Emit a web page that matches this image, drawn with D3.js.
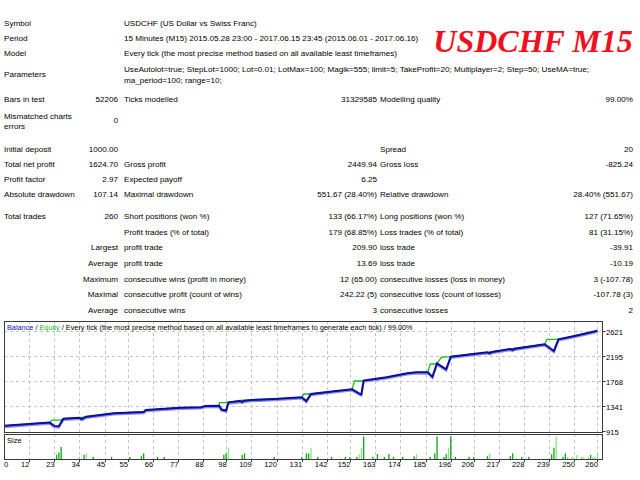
<!DOCTYPE html>
<html>
<head>
<meta charset="utf-8">
<script src="https://cdn.jsdelivr.net/npm/d3@7"></script>
<style>
body { margin: 0; background: #fff; }
svg { display: block; font-family: "Liberation Sans", Arial, sans-serif; }
</style>
</head>
<body>
<div id="graph"></div>
<script>
/*global d3 */

// --- report texts ---
var infoRows = [
    ["Symbol", "USDCHF (US Dollar vs Swiss Franc)"],
    ["Period", "15 Minutes (M15) 2015.05.28 23:00 - 2017.06.15 23:45 (2015.06.01 - 2017.06.16)"],
    ["Model", "Every tick (the most precise method based on all available least timeframes)"]
];
var paramLines = [
    "UseAutolot=true; StepLot=1000; Lot=0.01; LotMax=100; Magik=555; limit=5; TakeProfit=20; Multiplayer=2; Step=50; UseMA=true;",
    "ma_period=100; range=10;"
];
var barsRow = ["Bars in test", "52206", "Ticks modelled", "31329585", "Modelling quality", "99.00%"];
var mismatchRow = ["Mismatched charts", "errors", "0"];

var statRows = [
    ["Initial deposit", "1000.00", "", "", "Spread", "20"],
    ["Total net profit", "1624.70", "Gross profit", "2449.94", "Gross loss", "-825.24"],
    ["Profit factor", "2.97", "Expected payoff", "6.25", "", ""],
    ["Absolute drawdown", "107.14", "Maximal drawdown", "551.67 (28.40%)", "Relative drawdown", "28.40% (551.67)"]
];
var tradeRows = [
    ["Total trades", "260", "Short positions (won %)", "133 (66.17%)", "Long positions (won %)", "127 (71.65%)"],
    ["", "", "Profit trades (% of total)", "179 (68.85%)", "Loss trades (% of total)", "81 (31.15%)"],
    ["", "Largest", "profit trade", "209.90", "loss trade", "-39.91"],
    ["", "Average", "profit trade", "13.69", "loss trade", "-10.19"],
    ["", "Maximum", "consecutive wins (profit in money)", "12 (65.00)", "consecutive losses (loss in money)", "3 (-107.78)"],
    ["", "Maximal", "consecutive profit (count of wins)", "242.22 (5)", "consecutive loss (count of losses)", "-107.78 (3)"],
    ["", "Average", "consecutive wins", "3", "consecutive losses", "2"]
];
var titre = "USDCHF M15";
var legende = ["Balance", " / ", "Equity", " / Every tick (the most precise method based on all available least timeframes to generate each tick) / 99.00%"];

// --- chart data ---
var xTicks = [0, 12, 23, 34, 45, 55, 66, 77, 88, 98, 109, 120, 131, 142, 152, 163, 174, 185, 196, 206, 217, 228, 239, 250, 260];
var yTicks = [915, 1341, 1768, 2195, 2621];

var balanceTrade = [0, 21, 23, 25, 27, 34, 35, 37, 49, 62, 63, 78, 87, 89, 95, 96, 98, 99, 104, 105, 106, 109, 119, 131, 133, 135, 146, 153, 156, 157, 158, 162, 168, 177, 181, 186, 188, 190, 194, 196, 212, 213, 214, 222, 223, 224, 237, 241, 243, 250, 260];
var balanceValue = [1000, 1060, 1002, 995, 1125, 1142, 1118, 1160, 1217, 1239, 1273, 1313, 1322, 1341, 1347, 1280, 1265, 1404, 1425, 1412, 1432, 1444, 1461, 1490, 1427, 1546, 1597, 1626, 1558, 1541, 1776, 1797, 1831, 1899, 1916, 1916, 1841, 2070, 1967, 2183, 2258, 2244, 2262, 2314, 2298, 2318, 2395, 2280, 2480, 2536, 2625];

var equityTrade = [0, 21, 22, 26, 27, 34, 35, 37, 49, 55, 62, 63, 78, 87, 89, 95, 95, 98, 99, 104, 109, 119, 131, 132, 135, 146, 153, 154, 157, 158, 162, 168, 177, 181, 186, 187, 189, 190, 192, 196, 212, 222, 237, 238, 242, 243, 250, 260];
var equityValue = [1000, 1060, 1102, 1102, 1125, 1142, 1148, 1160, 1217, 1230, 1245, 1273, 1313, 1322, 1341, 1347, 1398, 1398, 1404, 1437, 1444, 1461, 1490, 1546, 1546, 1597, 1626, 1768, 1768, 1776, 1797, 1831, 1899, 1916, 1916, 2058, 2058, 2070, 2177, 2183, 2258, 2314, 2395, 2479, 2479, 2480, 2536, 2625];

var sizeTrade = [24, 25, 26, 34, 36, 37, 40, 48, 56, 61, 62, 68, 71, 97, 98, 99, 105, 106, 119, 131, 133, 134, 135, 138, 144, 150, 152, 155, 156, 157, 158, 162, 164, 167, 169, 171, 175, 180, 181, 187, 189, 190, 193, 194, 195, 196, 198, 204, 206, 212, 213, 222, 223, 227, 230, 240, 241, 242, 245, 246, 247, 249, 251, 253, 254, 256, 257, 258, 259, 260];
var sizeLots = [0.03, 0.045, 0.085, 0.015, 0.03, 0.04, 0.015, 0.015, 0.015, 0.02, 0.04, 0.015, 0.015, 0.03, 0.04, 0.08, 0.03, 0.04, 0.015, 0.015, 0.04, 0.04, 0.08, 0.015, 0.015, 0.015, 0.015, 0.015, 0.033, 0.08, 0.16, 0.015, 0.035, 0.015, 0.035, 0.015, 0.015, 0.02, 0.035, 0.015, 0.04, 0.16, 0.015, 0.035, 0.08, 0.16, 0.015, 0.015, 0.015, 0.02, 0.04, 0.02, 0.04, 0.015, 0.015, 0.033, 0.08, 0.16, 0.015, 0.04, 0.015, 0.015, 0.028, 0.015, 0.015, 0.015, 0.028, 0.015, 0.015, 0.033];
var sizeLight = [0, 0, 0, 1, 0, 1, 0, 0, 0, 0, 0, 0, 0, 0, 0, 1, 0, 0, 0, 0, 0, 0, 1, 0, 0, 0, 0, 0, 1, 1, 0, 0, 0, 0, 0, 0, 0, 0, 1, 0, 0, 0, 0, 0, 1, 0, 0, 0, 0, 0, 1, 0, 0, 0, 0, 0, 0, 1, 0, 0, 1, 1, 1, 1, 1, 1, 0, 1, 1, 1];

function dessinRapport() {
    "use strict";
    var svg = d3.select("#graph").append("svg")
            .attr("width", 640)
            .attr("height", 480),
        fs = 8.1,
        c1 = 4, c2 = 118, c3 = 124, c4 = 377, c5 = 380, c6 = 633;

    function ecrire(x, y, txt, anchor) {
        return svg.append("text")
            .attr("x", x)
            .attr("y", y)
            .attr("dy", "0.35em")
            .style("font-size", fs + "px")
            .style("fill", "#000")
            .style("text-anchor", anchor || "start")
            .text(txt);
    }

    function ligne(y, r) {
        var xs = [c1, c2, c3, c4, c5, c6],
            anchors = ["start", "end", "start", "end", "start", "end"];
        r.forEach(function (t, i) {
            if (t !== "") { ecrire(xs[i], y, t, anchors[i]); }
        });
    }

    // en-tête
    infoRows.forEach(function (r, i) {
        ecrire(c1, 23 + i * 15, r[0]);
        ecrire(c3, 23 + i * 15, r[1]);
    });
    ecrire(c1, 74, "Parameters");
    paramLines.forEach(function (t, i) { ecrire(c3, 69 + i * 11.5, t); });
    ligne(99.5, barsRow);
    ecrire(c1, 116, mismatchRow[0]);
    ecrire(c1, 126, mismatchRow[1]);
    ecrire(c2, 120, mismatchRow[2], "end");

    statRows.forEach(function (r, i) { ligne(149.5 + i * 15, r); });
    tradeRows.forEach(function (r, i) { ligne(216 + i * 15.7, r); });

    svg.append("text")
        .attr("x", 533)
        .attr("y", 52)
        .style("font-family", "'Liberation Serif', 'Times New Roman', serif")
        .style("font-weight", "bold")
        .style("font-style", "italic")
        .style("font-size", "32px")
        .style("fill", "#f0101e")
        .style("text-anchor", "middle")
        .text(titre);

    // graphique
    var gauche = 4, droite = 602, haut = 321, bas = 432, vHaut = 434, vBas = 459,
        x = d3.scaleLinear().domain([0, 262]).range([1.5, droite]),
        y = d3.scaleLinear().domain([915, 2621]).range([431, 331]),
        yv = d3.scaleLinear().domain([0, 0.17]).range([vBas, vHaut + 1]),
        grille = "#c4c4c4";

    svg.append("clipPath").attr("id", "zone")
        .append("rect")
        .attr("x", gauche).attr("y", haut).attr("width", droite - gauche).attr("height", bas - haut);

    // grille verticale
    svg.selectAll(".gv")
        .data(xTicks.slice(1))
        .enter()
        .append("line")
        .attr("x1", function (d) { return Math.round(x(d)) + 0.5; })
        .attr("x2", function (d) { return Math.round(x(d)) + 0.5; })
        .attr("y1", haut)
        .attr("y2", bas)
        .style("stroke", grille)
        .style("stroke-dasharray", "3 3");
    svg.selectAll(".gv2")
        .data(xTicks.slice(1))
        .enter()
        .append("line")
        .attr("x1", function (d) { return Math.round(x(d)) + 0.5; })
        .attr("x2", function (d) { return Math.round(x(d)) + 0.5; })
        .attr("y1", vHaut)
        .attr("y2", vBas)
        .style("stroke", grille)
        .style("stroke-dasharray", "3 3");
    // grille horizontale
    svg.selectAll(".gh")
        .data(yTicks.slice(1))
        .enter()
        .append("line")
        .attr("x1", gauche)
        .attr("x2", droite)
        .attr("y1", function (d) { return Math.round(y(d)) + 0.5; })
        .attr("y2", function (d) { return Math.round(y(d)) + 0.5; })
        .style("stroke", grille)
        .style("stroke-dasharray", "3 3");

    var balance = balanceTrade.map(function (t, i) { return {t: t, v: balanceValue[i]}; }),
        equity = equityTrade.map(function (t, i) { return {t: t, v: equityValue[i]}; }),
        trace = d3.line()
            .x(function (d) { return x(d.t); })
            .y(function (d) { return y(d.v); }),
        courbes = svg.append("g").attr("clip-path", "url(#zone)");

    courbes.append("path")
        .datum(balance)
        .attr("transform", "translate(0,1.3)")
        .attr("fill", "none")
        .attr("stroke", "#8a8af2")
        .attr("stroke-width", 2)
        .attr("d", trace);
    courbes.append("path")
        .datum(equity)
        .attr("fill", "none")
        .attr("stroke", "#1cb81c")
        .attr("stroke-width", 1.3)
        .attr("d", trace);
    courbes.append("path")
        .datum(balance)
        .attr("fill", "none")
        .attr("stroke", "#0c0c9e")
        .attr("stroke-width", 2)
        .attr("d", trace);

    // volumes
    svg.selectAll(".taille")
        .data(sizeTrade)
        .enter()
        .append("rect")
        .attr("x", function (d) { return x(d) - 0.6; })
        .attr("y", function (d, i) { return yv(sizeLots[i]); })
        .attr("width", 1.3)
        .attr("height", function (d, i) { return vBas - yv(sizeLots[i]); })
        .style("fill", function (d, i) { return sizeLight[i] ? "#8ee08e" : "#12a512"; });

    // cadres
    svg.append("rect")
        .attr("x", gauche + 0.5).attr("y", haut + 0.5)
        .attr("width", droite - gauche).attr("height", bas - haut)
        .style("fill", "none").style("stroke", "#3a3a3a");
    svg.append("rect")
        .attr("x", gauche + 0.5).attr("y", vHaut + 0.5)
        .attr("width", droite - gauche).attr("height", vBas - vHaut)
        .style("fill", "none").style("stroke", "#3a3a3a");

    // légende
    var leg = svg.append("text")
        .attr("x", 7)
        .attr("y", 327.5)
        .attr("dy", "0.35em")
        .style("font-size", "7.3px");
    leg.selectAll("tspan")
        .data(legende)
        .enter()
        .append("tspan")
        .style("fill", function (d, i) { return i === 0 ? "#1515b0" : (i === 2 ? "#18b818" : "#000"); })
        .text(function (d) { return d; });
    ecrire(7, 440, "Size").style("font-size", "7.6px");

    // axe droit
    svg.selectAll(".ty")
        .data(yTicks)
        .enter()
        .append("line")
        .attr("x1", droite + 0.5)
        .attr("x2", droite + 3.5)
        .attr("y1", function (d) { return Math.round(y(d)) + 0.5; })
        .attr("y2", function (d) { return Math.round(y(d)) + 0.5; })
        .style("stroke", "#3a3a3a");
    svg.selectAll(".ly")
        .data(yTicks)
        .enter()
        .append("text")
        .attr("x", 606)
        .attr("y", function (d) { return y(d) + 1.5; })
        .attr("dy", "0.35em")
        .style("font-size", "7.6px")
        .text(function (d) { return d; });

    // axe bas
    svg.selectAll(".tx")
        .data(xTicks.slice(1))
        .enter()
        .append("line")
        .attr("x1", function (d) { return Math.round(x(d)) + 0.5; })
        .attr("x2", function (d) { return Math.round(x(d)) + 0.5; })
        .attr("y1", vBas)
        .attr("y2", vBas + 3)
        .style("stroke", "#3a3a3a");
    svg.selectAll(".lx")
        .data(xTicks)
        .enter()
        .append("text")
        .attr("x", function (d, i) { return i === 0 ? gauche : x(d) + 0.5; })
        .attr("y", 464.5)
        .attr("dy", "0.35em")
        .style("font-size", "7.6px")
        .style("text-anchor", function (d, i) { return i === 0 ? "start" : "end"; })
        .text(function (d) { return d; });
}

dessinRapport();
</script>
</body>
</html>
